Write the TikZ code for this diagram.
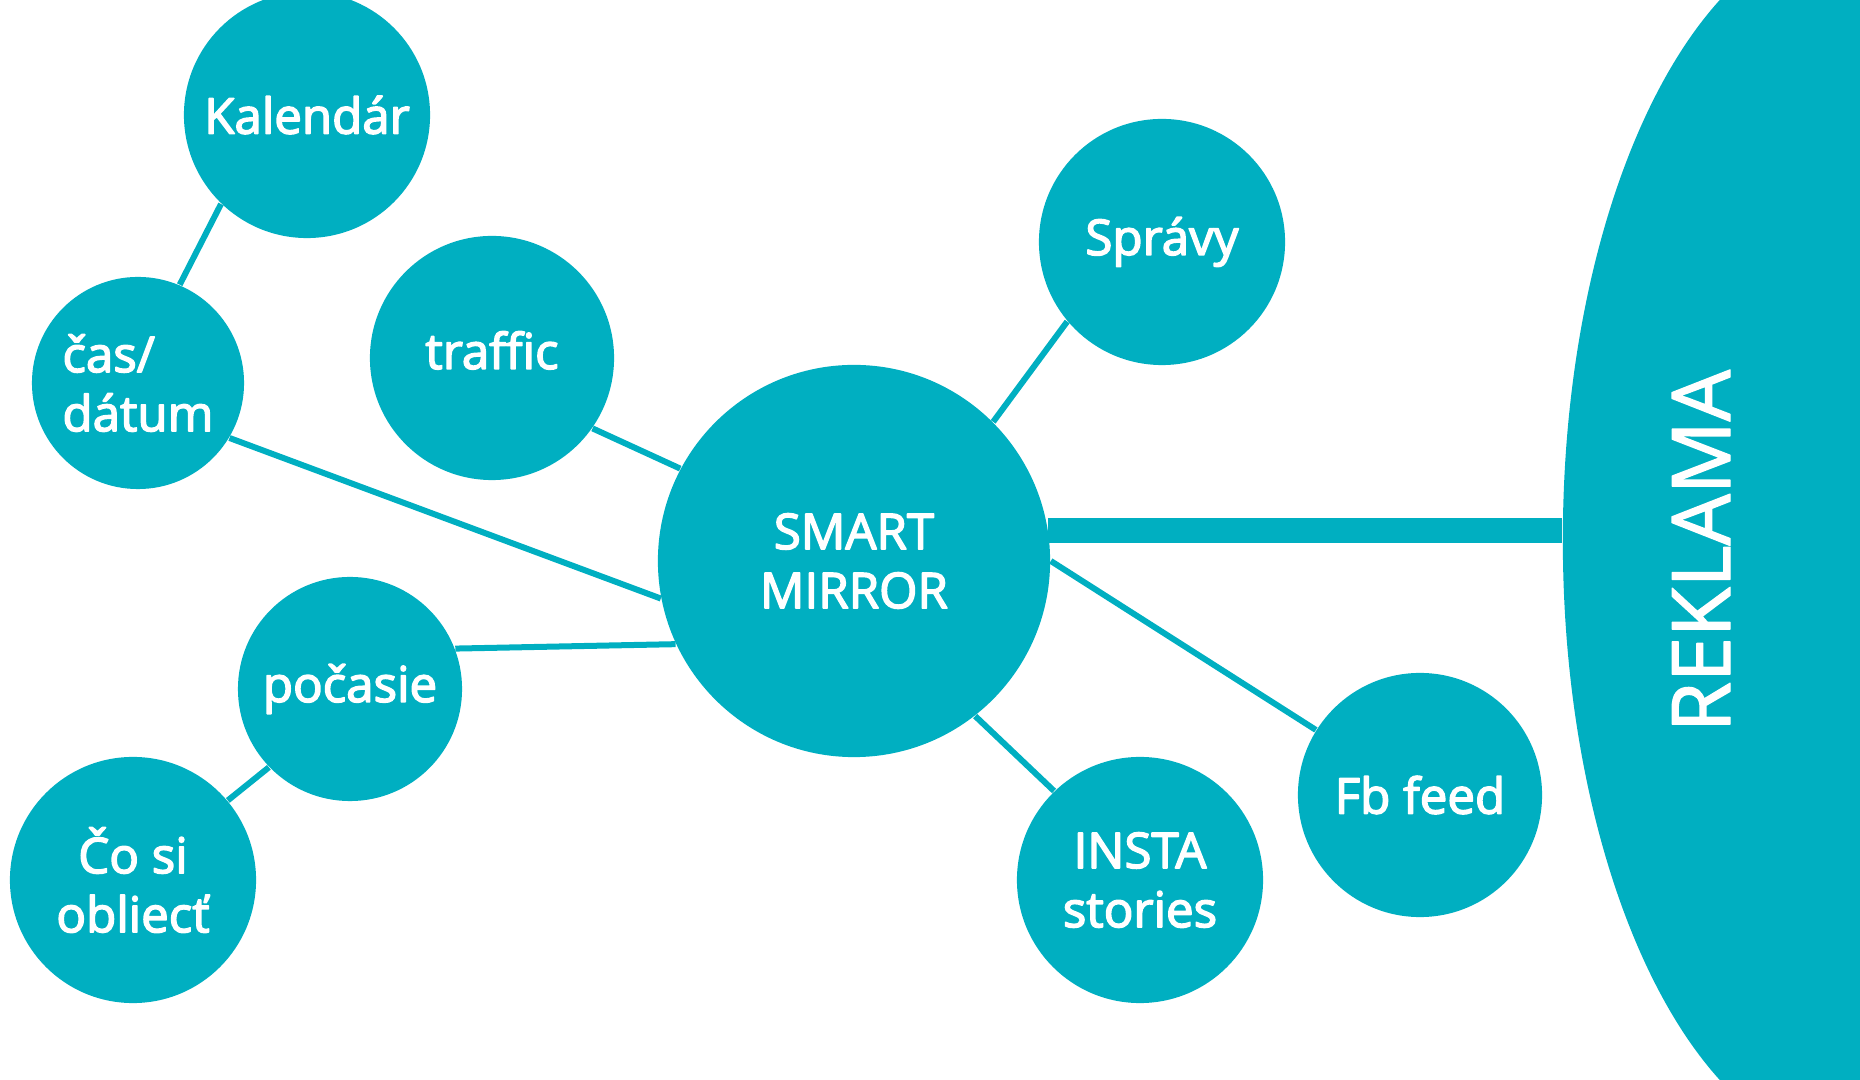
\documentclass[tikz,border=0pt]{standalone}
\usepackage{fontspec}
\setmainfont{Open Sans}
\usetikzlibrary{shapes.geometric,calc}
\definecolor{mirrorteal}{RGB}{0,175,193}
\tikzset{
   heavy text/.style={execute at begin node={\special{pdf:literal 2 Tr 0.42 w 1 j}},
                      execute at end node={\special{pdf:literal 0 Tr}}},
   topic node/.style={circle,fill=mirrorteal,draw=none,text=white,inner sep=0pt,heavy text,
                      font=\fontsize{14}{16.8}\selectfont},
   hub node/.style={topic node,minimum size=3.92cm},
   link/.style={draw=mirrorteal,line width=0.06cm},
   ad bar/.style={draw=mirrorteal,line width=0.25cm}
}

\begin{document}
\begin{tikzpicture}[x=0.01cm,y=-0.01cm]
\useasboundingbox (0,0) rectangle (1860,1080);
\clip (0,0) rectangle (1860,1080);
% topics round the mirror
\node[hub node,align=center] (smart) at (854,561) {SMART\\MIRROR};
\node[topic node,minimum size=2.46cm] (kal) at (307,115) {Kalendár};
\node[topic node,minimum size=2.12cm,align=left] (cas) at (138,383) {čas/\\dátum};
\node[topic node,minimum size=2.44cm] (traf) at (492,358) {\raisebox{0.6ex}{traffic}};
\node[topic node,minimum size=2.24cm] (pocasie) at (350,689) {počasie};
\node[topic node,minimum size=2.46cm,align=center] (oblec) at (133,880) {Čo si\\obliecť};
\node[topic node,minimum size=2.46cm] (spravy) at (1162,242) {Správy};
\node[topic node,minimum size=2.46cm,align=center] (insta) at (1140,880) {INSTA\\stories};
\node[topic node,minimum size=2.44cm] (fb) at (1420,795) {Fb feed};
% advert
\node[ellipse,fill=mirrorteal,inner sep=0pt,minimum width=5.94cm,minimum height=12.24cm] (rekl) at (1860,540) {};
\node[text=white,heavy text,font=\fontsize{23}{28}\selectfont,rotate=90] (reklText) at (1701,551) {REKLAMA};
%
\path[link]
  (kal.226) edge (cas.67)
  (cas.329) edge (smart.191)
  (traf.325) edge (smart.152)
  (pocasie.21.5) edge (smart.205.6)
  (oblec.40) edge (pocasie.224.6)
  (smart.45) edge (spravy.220)
  (smart.0) edge (fb.148.5)
  (smart.308.6) edge (insta.134.3)
  ;
\draw[ad bar] (smart.9) -- (smart.9 -| rekl.west);
\end{tikzpicture}
\end{document}
